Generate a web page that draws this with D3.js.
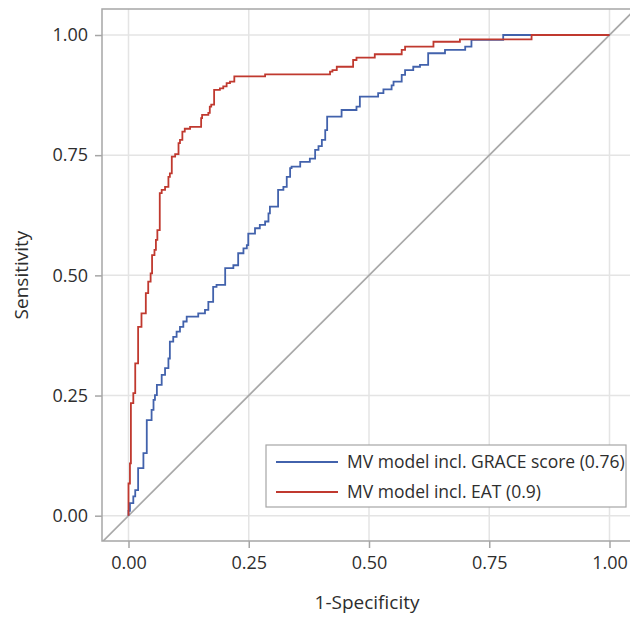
<!DOCTYPE html>
<html>
<head>
<meta charset="utf-8">
<script src="https://cdn.jsdelivr.net/npm/d3@7"></script>
<style>
  body { margin: 0; background: #fff; }
  text { font-family: "Open Sans", "Liberation Sans", sans-serif; fill: #2e2e2e; }
</style>
</head>
<body>
<svg id="chart" width="630" height="618"></svg>
<script>
// ROC data: each point is [1-specificity, sensitivity] at the top of a step
var graceRoc = [[0,0],[0,0.01],[0.003,0.026],[0.010,0.040],[0.014,0.053],[0.020,0.099],[0.031,0.130],
  [0.038,0.199],[0.048,0.22],[0.052,0.241],[0.055,0.251],[0.059,0.272],[0.069,0.293],[0.076,0.307],
  [0.083,0.327],[0.086,0.362],[0.093,0.372],[0.100,0.383],[0.107,0.393],[0.114,0.404],[0.121,0.414],
  [0.145,0.421],[0.159,0.428],[0.166,0.445],[0.176,0.476],[0.183,0.480],[0.201,0.515],[0.218,0.521],
  [0.228,0.546],[0.239,0.556],[0.246,0.563],[0.249,0.587],[0.263,0.598],[0.273,0.605],[0.284,0.612],
  [0.291,0.629],[0.294,0.643],[0.311,0.678],[0.322,0.684],[0.329,0.705],[0.336,0.723],[0.339,0.726],
  [0.357,0.736],[0.377,0.743],[0.388,0.761],[0.395,0.769],[0.402,0.782],[0.409,0.802],[0.413,0.830],
  [0.443,0.844],[0.474,0.851],[0.481,0.872],[0.519,0.879],[0.530,0.887],[0.547,0.895],[0.551,0.903],
  [0.568,0.917],[0.575,0.927],[0.592,0.934],[0.606,0.938],[0.623,0.962],[0.658,0.969],[0.700,0.976],
  [0.713,0.99],[0.779,1.0],[1,1]];

var eatRoc = [[0,0],[0,0.067],[0.003,0.109],[0.005,0.234],[0.010,0.255],[0.014,0.317],[0.020,0.393],
  [0.027,0.421],[0.036,0.463],[0.041,0.487],[0.046,0.504],[0.049,0.542],[0.054,0.553],[0.057,0.574],
  [0.060,0.594],[0.065,0.671],[0.069,0.678],[0.076,0.684],[0.083,0.705],[0.086,0.712],[0.090,0.747],
  [0.097,0.752],[0.104,0.775],[0.107,0.782],[0.112,0.799],[0.117,0.805],[0.128,0.809],[0.151,0.827],
  [0.153,0.834],[0.166,0.838],[0.169,0.851],[0.172,0.855],[0.178,0.886],[0.190,0.889],[0.197,0.893],
  [0.204,0.9],[0.211,0.903],[0.220,0.914],[0.284,0.918],[0.419,0.924],[0.424,0.927],[0.433,0.934],
  [0.467,0.948],[0.474,0.953],[0.512,0.960],[0.568,0.969],[0.575,0.976],[0.634,0.986],[0.689,0.991],
  [0.838,1.0],[1,1]];

var tickValues = [0, 0.25, 0.5, 0.75, 1];
var seriesNames = ["MV model incl. GRACE score (0.76)", "MV model incl. EAT (0.9)"];
var seriesColors = ["#4262ac", "#c0392f"];

var svg = d3.select("#chart");

// Plot frame in pixels
var frameL = 102, frameT = 9, frameR = 642, frameB = 541;

// Scales: 0 -> 128.5px, 1 -> 609.5px ; y 0 -> 515.7, 1 -> 35
var x = d3.scaleLinear().domain([0, 1]).range([128.5, 609.5]);
var y = d3.scaleLinear().domain([0, 1]).range([515.7, 35]);

svg.append("defs").append("clipPath").attr("id", "clip")
  .append("rect").attr("x", frameL).attr("y", frameT)
  .attr("width", frameR - frameL).attr("height", frameB - frameT);

// Grid
var grid = svg.append("g").attr("class", "grid");
grid.selectAll(".vg").data(tickValues).enter().append("line")
  .attr("x1", d => x(d)).attr("x2", d => x(d))
  .attr("y1", frameT).attr("y2", frameB)
  .attr("stroke", "#e4e4e4").attr("stroke-width", 1.5);
grid.selectAll(".hg").data(tickValues).enter().append("line")
  .attr("y1", d => y(d)).attr("y2", d => y(d))
  .attr("x1", frameL).attr("x2", frameR)
  .attr("stroke", "#e4e4e4").attr("stroke-width", 1.5);

// Reference diagonal
var xMin = x.invert(frameL), xMax = x.invert(frameR);
svg.append("line")
  .attr("clip-path", "url(#clip)")
  .attr("x1", x(xMin)).attr("y1", y(xMin))
  .attr("x2", x(xMax)).attr("y2", y(xMax))
  .attr("stroke", "#a9a9a9").attr("stroke-width", 1.7);

// ROC curves
var line = d3.line()
  .x(d => x(d[0])).y(d => y(d[1]))
  .curve(d3.curveStepAfter);

var curves = [graceRoc, eatRoc];
svg.append("g").attr("clip-path", "url(#clip)")
  .selectAll("path").data(curves).enter().append("path")
  .attr("d", line)
  .attr("fill", "none")
  .attr("stroke", (d, i) => seriesColors[i])
  .attr("stroke-width", 1.8);

// Frame
svg.append("rect")
  .attr("x", frameL).attr("y", frameT)
  .attr("width", frameR - frameL).attr("height", frameB - frameT)
  .attr("fill", "none").attr("stroke", "#a6a6a6").attr("stroke-width", 1.5);

// Axes
var xAxis = svg.append("g").attr("transform", "translate(0," + frameB + ")")
  .call(d3.axisBottom(x).tickValues(tickValues).tickFormat(d3.format(".2f")).tickSizeOuter(0).tickSize(7).tickPadding(8));
var yAxis = svg.append("g").attr("transform", "translate(" + frameL + ",0)")
  .call(d3.axisLeft(y).tickValues(tickValues).tickFormat(d3.format(".2f")).tickSizeOuter(0).tickSize(7).tickPadding(7));
[xAxis, yAxis].forEach(function(a) {
  a.select(".domain").remove();
  a.selectAll(".tick line").attr("stroke", "#a6a6a6").attr("stroke-width", 1.5);
  a.selectAll(".tick text").style("font-size", "18px").attr("fill", "#2e2e2e");
});

// Axis titles
svg.append("text")
  .attr("x", 367).attr("y", 609)
  .attr("text-anchor", "middle")
  .style("font-size", "19px")
  .text("1-Specificity");
svg.append("text")
  .attr("transform", "translate(28,275) rotate(-90)")
  .attr("text-anchor", "middle")
  .style("font-size", "19px")
  .text("Sensitivity");

// Legend
var legend = svg.append("g");
legend.append("rect")
  .attr("x", 266).attr("y", 445).attr("width", 360).attr("height", 62)
  .attr("fill", "#fff").attr("stroke", "#a6a6a6").attr("stroke-width", 1.2);
var rows = legend.selectAll(".row").data(seriesNames).enter().append("g")
  .attr("transform", (d, i) => "translate(0," + (462 + i * 30) + ")");
rows.append("line")
  .attr("x1", 276).attr("x2", 338)
  .attr("stroke", (d, i) => seriesColors[i]).attr("stroke-width", 1.8);
rows.append("text")
  .attr("x", 347).attr("dy", "0.35em")
  .style("font-size", "17.5px")
  .text(d => d);
</script>
</body>
</html>
